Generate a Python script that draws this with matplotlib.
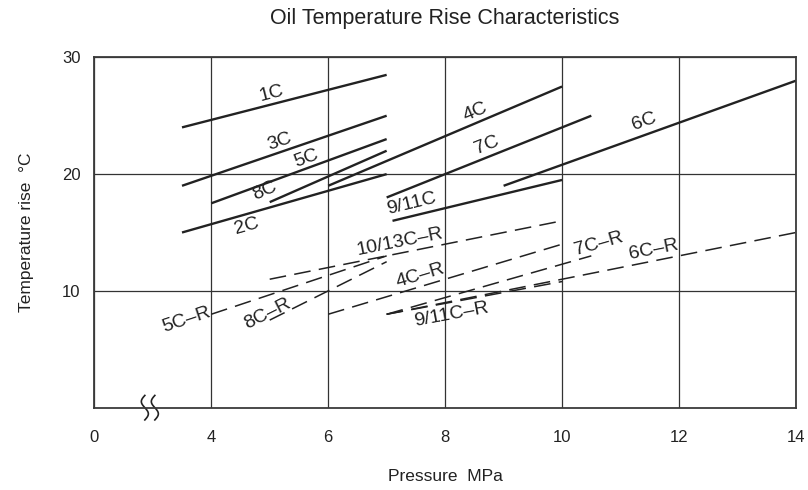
import numpy as np
import matplotlib
matplotlib.use("Agg")
import matplotlib.pyplot as plt

# solid curves: name, (x0, x1), (y0, y1)
solid_names = ["1C", "3C", "5C", "8C", "2C", "4C", "7C", "9/11C", "6C"]
solid_x = [(3.5, 7), (3.5, 7), (4, 7), (5, 7), (3.5, 7), (6, 10), (7, 10.5), (7.1, 10), (9, 14)]
solid_y = [(24, 28.5), (19, 25), (17.5, 23), (17.6, 22), (15, 20), (19, 27.5), (18, 25), (16, 19.5), (19, 28)]

# dashed (-R) curves
dash_names = ["10/13C-R", "5C-R", "8C-R", "4C-R", "7C-R", "9/11C-R", "6C-R"]
dash_x = [(5, 10), (4, 7), (5, 7), (6, 10), (7, 10.5), (7, 10), (7, 14)]
dash_y = [(11, 16), (8, 13), (7.5, 12.5), (8, 14), (8, 13), (8, 10.8), (8, 15)]

# where each label sits
solid_lab = [(5.03, 26.9), (5.17, 22.8), (5.63, 21.35), (4.92, 18.6), (4.6, 15.5),
             (8.51, 25.3), (8.71, 22.5), (7.43, 17.5), (11.41, 24.5)]
dash_lab = [(7.23, 14.2), (3.58, 7.5), (4.97, 8.08), (7.57, 11.36), (10.62, 14.07),
            (8.11, 7.94), (11.56, 13.5)]

xticks = [2, 4, 6, 8, 10, 12, 14]
xticklabels = ["0", "4", "6", "8", "10", "12", "14"]
yticks = [10, 20, 30]

plt.rcParams["font.family"] = ["Liberation Sans", "DejaVu Sans"]
plt.rcParams["lines.scale_dashes"] = False

ink = "#222222"
fig = plt.figure(figsize=(8.08, 4.9), dpi=100)
ax = fig.add_axes([0.1167, 0.168, 0.8684, 0.715])
ax.set_xlim(2, 14)
ax.set_ylim(0, 30)

for xs, ys in zip(solid_x, solid_y):
    ax.plot(xs, ys, color=ink, lw=1.7, solid_capstyle="butt")
for xs, ys in zip(dash_x, dash_y):
    ax.plot(xs, ys, color=ink, lw=1.1, dashes=(12, 6))

def put_label(name, xy, xs, ys):
    ang = np.degrees(np.arctan2(ys[1] - ys[0], xs[1] - xs[0]))
    ax.text(xy[0], xy[1], name.replace("-", "\u2013"), fontsize=14, color=ink,
            ha="center", va="center", rotation=ang,
            rotation_mode="anchor", transform_rotates_text=True)

for n, p, xs, ys in zip(solid_names, solid_lab, solid_x, solid_y):
    put_label(n, p, xs, ys)
for n, p, xs, ys in zip(dash_names, dash_lab, dash_x, dash_y):
    put_label(n, p, xs, ys)

ax.set_xticks(xticks)
ax.set_xticklabels(xticklabels)
ax.set_yticks(yticks)
ax.grid(True, color="#333333", lw=0.9)
ax.set_axisbelow(True)
ax.tick_params(length=0, labelsize=12, colors=ink, pad=10)
ax.tick_params(axis="x", pad=16)
for s in ax.spines.values():
    s.set_color("#3a3a3a")
    s.set_linewidth(1.3)

# axis break mark near the origin
t = np.linspace(-1, 1, 50)
for dx in (-5, 5):
    xx = 2.95 + (dx - 3.5 * np.sin(t * np.pi)) / 58.5
    yy = t * 1.05
    ax.plot(xx, yy, color=ink, lw=1.2, clip_on=False)

ax.set_xlabel("Pressure  MPa", fontsize=12.5, color=ink, labelpad=17)
ax.set_ylabel("Temperature rise  \u00b0C", fontsize=12.5, color=ink, labelpad=20)
ax.set_title("Oil Temperature Rise Characteristics", fontsize=15.5, color=ink, pad=24)

fig.savefig("out.png", dpi=100)
